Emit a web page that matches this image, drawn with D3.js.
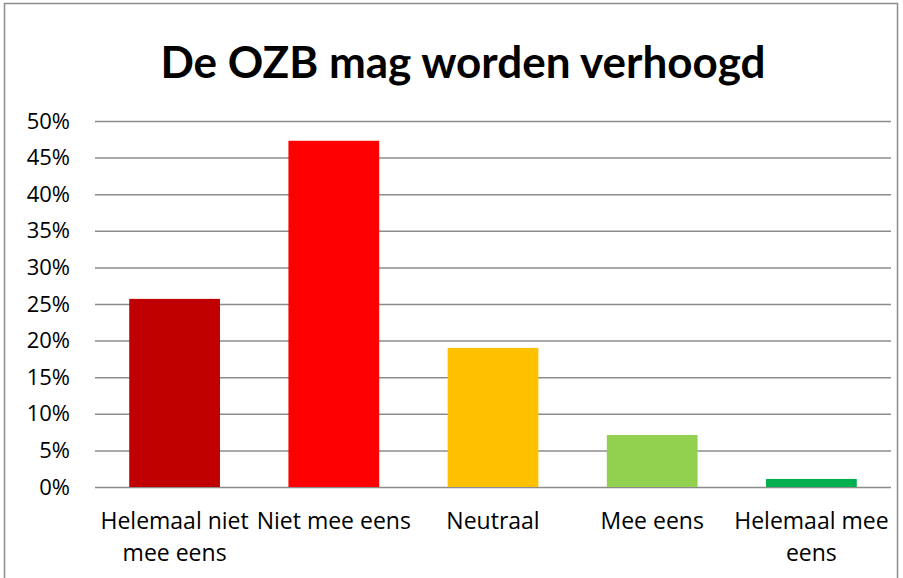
<!DOCTYPE html>
<html>
<head>
<meta charset="utf-8">
<script src="https://cdn.jsdelivr.net/npm/d3@7"></script>
<style>
  body { margin: 0; background: #fff; }
  svg text { font-family: "Open Sans", sans-serif; }
  svg text.title { font-family: Lato, sans-serif; }
</style>
</head>
<body>
<div id="chart"></div>
<script>
// Chart data
const categories = ["Helemaal niet mee eens", "Niet mee eens", "Neutraal", "Mee eens", "Helemaal mee eens"];
const labelLines = [["Helemaal niet", "mee eens"], ["Niet mee eens"], ["Neutraal"], ["Mee eens"], ["Helemaal mee", "eens"]];
const values = [0.257, 0.473, 0.19, 0.071, 0.011];
const colors = ["#C00000", "#FF0000", "#FFC000", "#92D050", "#00B050"];
const yTicks = [0, 0.05, 0.1, 0.15, 0.2, 0.25, 0.3, 0.35, 0.4, 0.45, 0.5];
const title = "De OZB mag worden verhoogd";

const svgWidth = 903;
const svgHeight = 578;
const margin = { top: 121, right: 12, bottom: 91, left: 95 };
const width = svgWidth - margin.left - margin.right;
const height = svgHeight - margin.top - margin.bottom;

const svg = d3.select("#chart")
  .append("svg")
  .attr("width", svgWidth)
  .attr("height", svgHeight);

// Outer border
svg.append("rect")
  .attr("x", 4.5)
  .attr("y", 3.5)
  .attr("width", 893)
  .attr("height", 590)
  .attr("fill", "none")
  .attr("stroke", "#8c8c8c")
  .attr("stroke-width", 1.5);

// Title
svg.append("text")
  .attr("class", "title")
  .attr("x", 463)
  .attr("y", 78)
  .attr("text-anchor", "middle")
  .attr("font-size", 44)
  .attr("font-weight", "bold")
  .attr("fill", "#000")
  .text(title);

const g = svg.append("g")
  .attr("transform", `translate(${margin.left}, ${margin.top})`);

// Scales
const x = d3.scaleBand().domain(categories).range([0, width]).paddingInner(0.43).paddingOuter(0.215);
const y = d3.scaleLinear().domain([0, 0.5]).range([height, 0]);

// Gridlines
const yAxis = d3.axisLeft(y)
  .tickValues(yTicks)
  .tickSize(-width)
  .tickPadding(25)
  .tickFormat(d3.format(".0%"));

const yG = g.append("g").call(yAxis);
yG.select(".domain").remove();
yG.selectAll(".tick line")
  .attr("stroke", "#8c8c8c")
  .attr("stroke-width", 1.5);
yG.selectAll(".tick text")
  .attr("font-size", 22)
  .attr("fill", "#000");

// Bars
g.selectAll(".bar")
  .data(values)
  .enter()
  .append("rect")
  .attr("class", "bar")
  .attr("x", (d, i) => x(categories[i]))
  .attr("y", d => y(d))
  .attr("width", x.bandwidth())
  .attr("height", d => height - y(d))
  .attr("fill", (d, i) => colors[i]);

// Category labels
const labels = g.selectAll(".cat")
  .data(categories)
  .enter()
  .append("text")
  .attr("class", "cat")
  .attr("text-anchor", "middle")
  .attr("font-size", 23)
  .attr("fill", "#000")
  .attr("x", d => x(d) + x.bandwidth() / 2)
  .attr("y", height + 42);

labels.each(function(d, i) {
  const t = d3.select(this);
  labelLines[i].forEach((line, j) => {
    t.append("tspan")
      .attr("x", x(d) + x.bandwidth() / 2)
      .attr("dy", j === 0 ? 0 : 32)
      .text(line);
  });
});
</script>
</body>
</html>
